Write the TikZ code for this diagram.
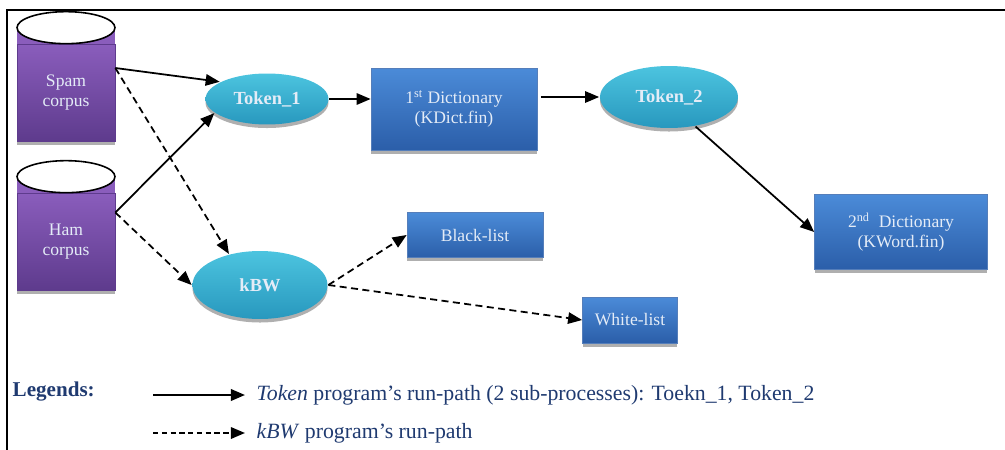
\documentclass[tikz,border=0pt]{standalone}
\usepackage{fontspec}
\setmainfont{Liberation Serif}
\usepackage{xcolor}
\usepackage{tikz}
\usetikzlibrary{positioning}
\usetikzlibrary{arrows.meta,shapes.geometric,shadows}

\definecolor{corpustop}{HTML}{8A5DBC}
\definecolor{corpusbot}{HTML}{5E3B8D}
\definecolor{dicttop}{HTML}{4B8BD8}
\definecolor{dictbot}{HTML}{2B5EA9}
\definecolor{proctop}{HTML}{4CC4DF}
\definecolor{procbot}{HTML}{2898BE}
\definecolor{labtext}{HTML}{E4ECF7}
\definecolor{legtext}{HTML}{1F3A70}

\begin{document}
\begin{tikzpicture}[x=0.02cm,y=-0.02cm,->,>={Triangle[length=8pt,width=6.5pt]},
                    line width=1pt,font=\fontsize{10}{11.5}\selectfont,
    shade/.style={drop shadow={shadow xshift=0pt,shadow yshift=-2pt,fill=gray!70,opacity=.9}},
    corpus/.style={rectangle,minimum width=1.96cm,minimum height=1.94cm,inner sep=0pt,
                   top color=corpustop,bottom color=corpusbot,draw=corpusbot,line width=.4pt,
                   text=labtext,align=center,shade},
    dict/.style={rectangle,inner sep=0pt,top color=dicttop,bottom color=dictbot,
                 draw=dictbot!80,line width=.4pt,text=labtext,align=center,shade},
    proc/.style={ellipse,inner sep=0pt,top color=proctop,bottom color=procbot,
                 text=labtext,font=\fontsize{10.5}{12}\selectfont\bfseries,shade},
    token/.style={solid},
    kbw/.style={dash pattern=on 4pt off 2.5pt}]

\useasboundingbox (0,0) rectangle (1005,450);
\draw[-,line width=1.3pt] (7,450) -- (7,10) -- (1005,10);

% data sources
\node[corpus] (spam) at (66,92.5) {Spam\\corpus};
\node[corpus] (ham) at (66,241.5) {Ham\\corpus};
\foreach \c in {spam,ham}{
  \fill[corpustop] (\c.north west) rectangle ([yshift=.32cm]\c.north east);
  \draw[-,fill=white,line width=.9pt] ([yshift=.32cm]\c.north) ellipse [x radius=.98cm,y radius=.32cm];
}

% processes and outputs
\node[proc,minimum width=2.46cm,minimum height=1.02cm] (tok1) at (267,99) {Token\_1};
\node[dict,minimum width=3.32cm,minimum height=1.64cm] (dict1) at (454,109) {1\textsuperscript{st} Dictionary\\(KDict.fin)};
\node[proc,minimum width=2.76cm,minimum height=1.24cm] (tok2) at (669,97) {Token\_2};
\node[dict,minimum width=3.46cm,minimum height=1.5cm] (dict2) at (901,232) {2\textsuperscript{nd}\ \ Dictionary\\(KWord.fin)};
\node[proc,minimum width=2.7cm,minimum height=1.36cm] (kbw) at (260,285) {kBW};
\node[dict,minimum width=2.72cm,minimum height=.9cm] (black) at (475,235) {Black-list};
\node[dict,minimum width=1.9cm,minimum height=.92cm] (white) at (630,320) {White-list};

% Token run-path
\draw[token] ([yshift=.49cm]spam.east) -- (tok1.160);
\draw[token] ([yshift=.58cm]ham.east) -- (tok1.195);
\draw[token] (tok1.east) -- (tok1.east -| dict1.west);
\draw[token] ([xshift=2pt]dict1.east |- tok2) -- (tok2.west);
\draw[token] (tok2.-48) -- (dict2.west);

% kBW run-path
\draw[kbw] ([yshift=.49cm]spam.east) -- (kbw.135);
\draw[kbw] ([yshift=.58cm]ham.east) -- (kbw.west);
\draw[kbw] (kbw.east) -- (black.west);
\draw[kbw] (kbw.east) -- (white.west);

% legend
\node[font=\fontsize{12}{14}\selectfont\bfseries,text=legtext,anchor=west] (leg) at (6,392) {Legends:};
\coordinate (tokA) at (153,395);
\coordinate (tokB) at (245,395);
\coordinate (kbwA) at (153,433);
\coordinate (kbwB) at (245,433);
\draw[token,line width=1.3pt] (tokA) -- (tokB);
\draw[kbw,line width=1.1pt,dash pattern=on 3pt off 2pt] (kbwA) -- (kbwB);
\node[text=legtext,right=0.1cm of tokB,font=\fontsize{12.4}{14}\selectfont] (tokleg)
  {\textit{Token} program's run-path (2 sub-processes): Toekn\_1, Token\_2};
\node[text=legtext,right=0.1cm of kbwB,font=\fontsize{12.4}{14}\selectfont] (kbwleg)
  {\textit{kBW} program's run-path};
\end{tikzpicture}
\end{document}
